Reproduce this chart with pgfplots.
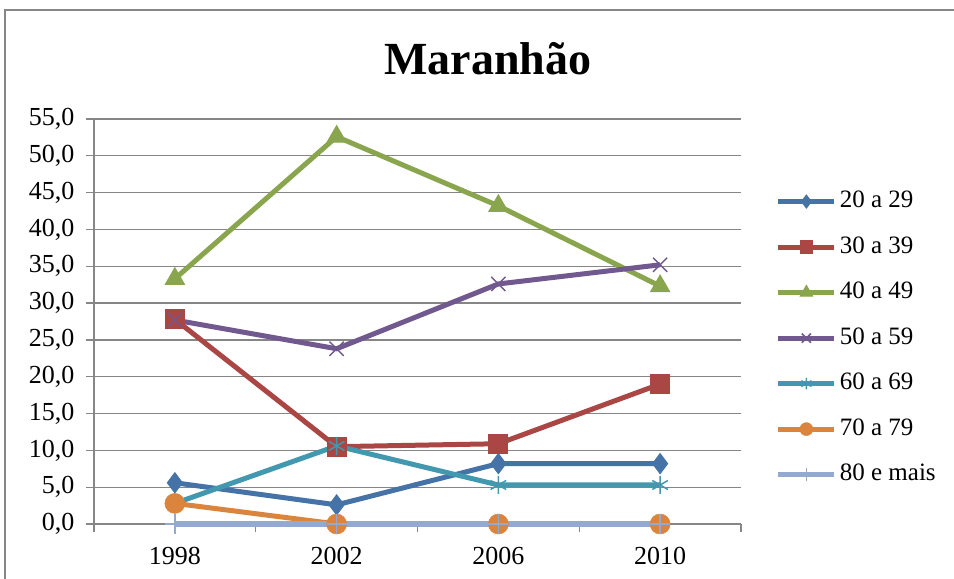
\documentclass[border=0pt]{standalone}
\usepackage{fontspec}
\setmainfont{Liberation Serif}
\usepackage{pgfplots}
\pgfplotsset{compat=1.18}
\definecolor{c1}{HTML}{4572A7}
\definecolor{c2}{HTML}{AA4643}
\definecolor{c3}{HTML}{89A54E}
\definecolor{c4}{HTML}{71588F}
\definecolor{c5}{HTML}{4198AF}
\definecolor{c6}{HTML}{DB843D}
\definecolor{c7}{HTML}{93A9CF}
\definecolor{axgray}{HTML}{868686}
\begin{document}
\begin{tikzpicture}
\path[use as bounding box] (0,0) rectangle (954bp,579bp);
\draw[axgray, line width=1.5bp] (5bp,0) -- (5bp,569bp) -- (954bp,569bp);
\node[font=\fontsize{46bp}{50bp}\selectfont\bfseries, anchor=base] at (488bp,504bp) {Maranhão};
\begin{axis}[
  at={(94bp,55bp)}, anchor=south west,
  scale only axis, width=647bp, height=405bp,
  xmin=0.5, xmax=4.5, ymin=0, ymax=55,
  clip=false,
  axis x line*=bottom, axis y line*=left,
  axis line style={axgray, line width=1.2bp},
  xtick={0.5,1.5,2.5,3.5,4.5}, xticklabels={},
  extra x ticks={1,2,3,4},
  extra x tick labels={1998,2002,2006,2010},
  extra x tick style={tick style={draw=none}, xticklabel style={yshift=-12bp}},
  ytick={0,5,...,55},
  tick align=outside, major tick length=8bp,
  tick style={axgray, line width=1.2bp},
  ymajorgrids, grid style={axgray, line width=1.2bp},
  tick label style={font=\fontsize{26bp}{28bp}\selectfont},
  /pgf/number format/assume math mode=true,
  yticklabel style={xshift=-8bp, /pgf/number format/.cd, fixed, fixed zerofill, precision=1, use comma},
  legend style={draw=none, fill=none, at={(1.049,0.459)}, anchor=west,
    font=\fontsize{25bp}{27bp}\selectfont,
    nodes={inner sep=0pt, text height=17bp, text depth=5bp},
    row sep=23.5bp, column sep=3bp},
  legend cell align=left,
  legend image code/.code={\draw[mark repeat=2,mark phase=2, every mark/.append style={scale=0.65}] plot coordinates {(0bp,0bp)(28bp,0bp)(56bp,0bp)};},
  every axis plot/.append style={line width=5bp},
]
\addplot[c1, mark=diamond*, mark size=10bp, mark options={line width=1bp}] coordinates {(1,5.6)(2,2.6)(3,8.2)(4,8.2)};
\addlegendentry{20 a 29}
\addplot[c2, mark=square*, mark size=9.5bp, mark options={line width=1bp}] coordinates {(1,27.8)(2,10.5)(3,10.9)(4,19.0)};
\addlegendentry{30 a 39}
\addplot[c3, mark=triangle*, mark size=11bp, mark options={line width=1bp}] coordinates {(1,33.3)(2,52.6)(3,43.2)(4,32.3)};
\addlegendentry{40 a 49}
\addplot[c4, mark=x, mark size=10bp, mark options={line width=1.5bp}] coordinates {(1,27.7)(2,23.8)(3,32.6)(4,35.2)};
\addlegendentry{50 a 59}
\addplot[c5, mark=asterisk, mark size=9bp, mark options={line width=1.5bp}] coordinates {(1,2.8)(2,10.6)(3,5.3)(4,5.3)};
\addlegendentry{60 a 69}
\addplot[c6, mark=*, mark size=10bp, mark options={line width=0.5bp}] coordinates {(1,2.8)(2,0)(3,0)(4,0)};
\addlegendentry{70 a 79}
\addplot[c7, mark=+, mark size=10bp, mark options={line width=1.5bp}] coordinates {(1,0)(2,0)(3,0)(4,0)};
\addlegendentry{80 e mais}
\end{axis}
\end{tikzpicture}
\end{document}
